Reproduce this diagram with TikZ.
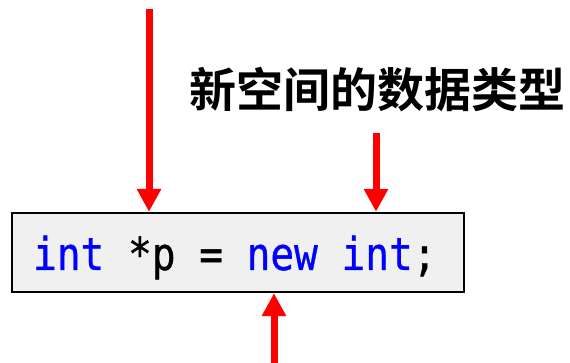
\documentclass[tikz,border=0pt]{standalone}
\usepackage{fontspec}
\newfontfamily\codefont[FakeBold=0.8]{DejaVu Sans Mono}
\newfontfamily\cjk{Noto Sans CJK SC Bold}
\usetikzlibrary{arrows.meta}
\definecolor{boxfill}{RGB}{240,240,240}
\definecolor{kwblue}{RGB}{0,0,255}
\tikzset{
  codebox/.style={draw=black, line width=2.3pt, fill=boxfill, minimum width=452pt, minimum height=79pt, inner sep=0pt},
  redarrow/.style={draw=red, line width=7pt, -{Triangle[width=23pt,length=23pt]}}
}
\begin{document}
\begin{tikzpicture}[x=1pt,y=-1pt]
\useasboundingbox (0,0) rectangle (570,363);
\node[codebox] (code) at (238,252.5) {};
\node[anchor=base west, inner sep=0pt] (txt) at (33,270)
  {\scalebox{1}[1.15]{\codefont\fontsize{39.4}{40}\selectfont\textcolor{kwblue}{int} *p = \textcolor{kwblue}{new} \textcolor{kwblue}{int};}};
\node[inner sep=0pt] (label) at (377,90) {\cjk\fontsize{47}{50}\selectfont 新空间的数据类型};
\coordinate (s1) at (149,9);
\coordinate (s2) at (376,133);
\coordinate (s3) at (274,363);
\draw[redarrow] (s1) -- (s1 |- code.north);
\draw[redarrow] (s2) -- (s2 |- code.north);
\draw[redarrow] (s3) -- (s3 |- code.south);
\end{tikzpicture}
\end{document}
